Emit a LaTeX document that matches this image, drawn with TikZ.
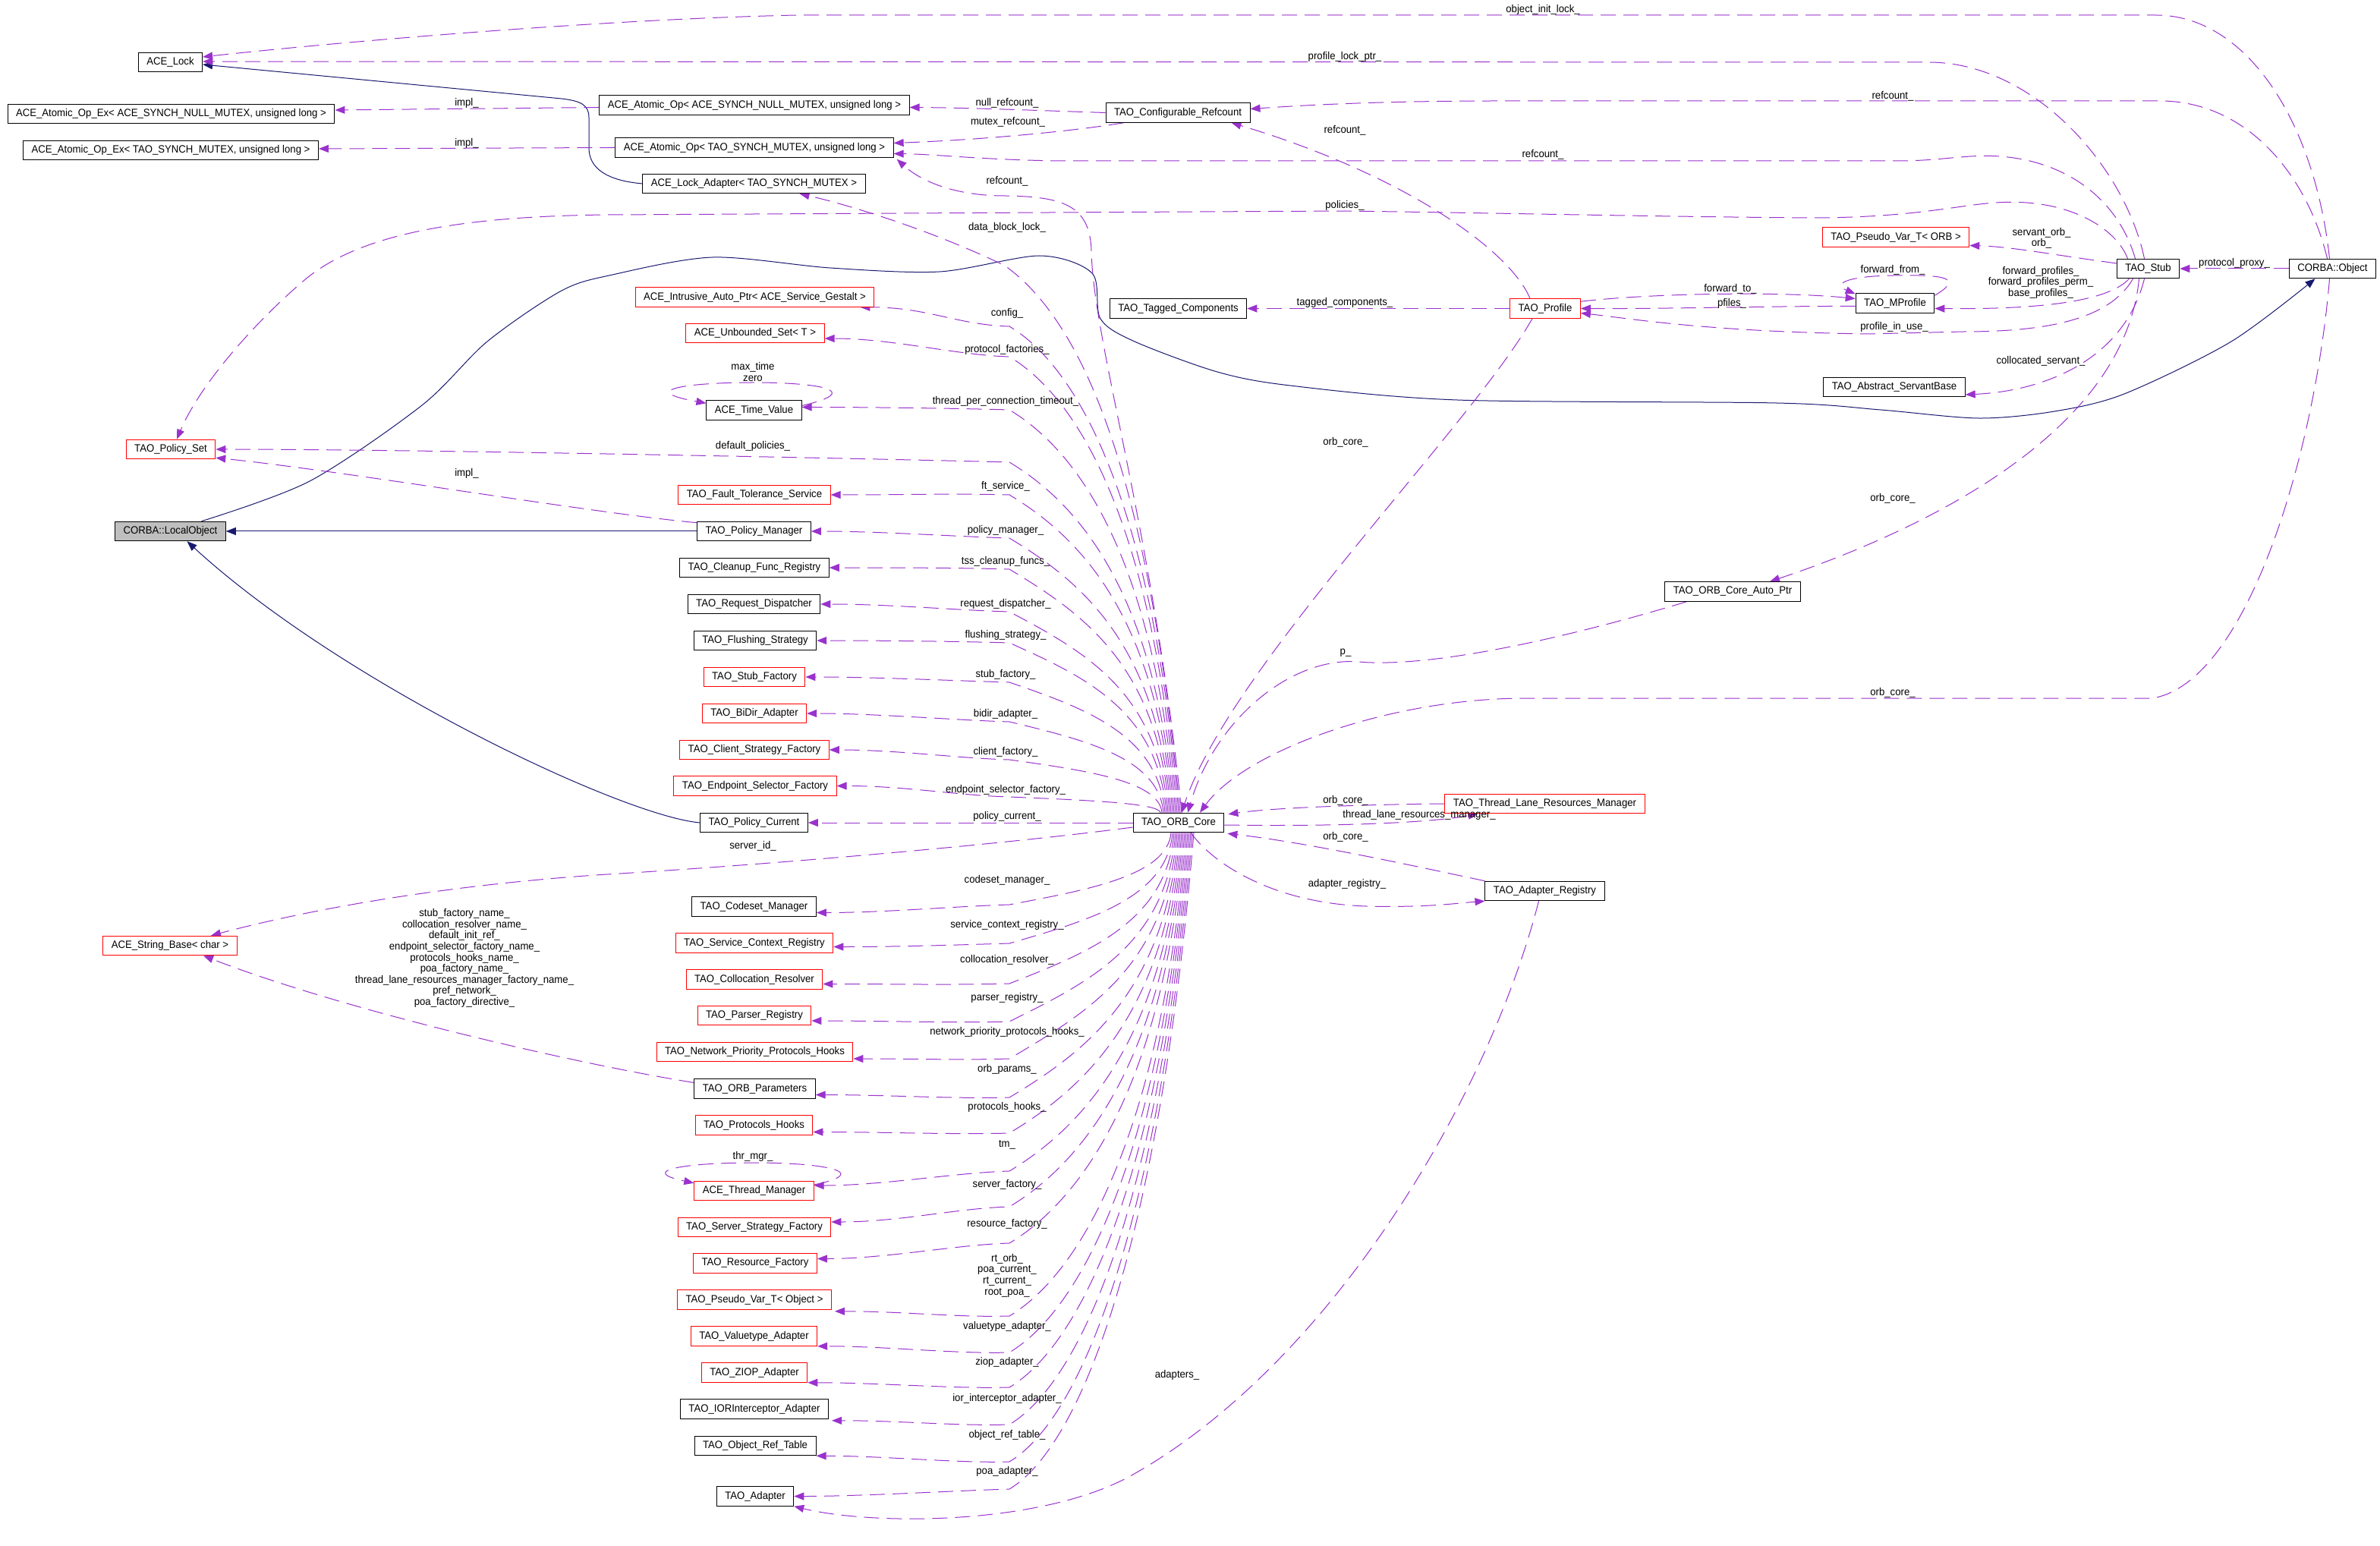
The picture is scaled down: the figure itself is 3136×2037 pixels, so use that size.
\documentclass[tikz,border=0pt]{standalone}
\usepackage{fontspec}
\setmainfont{Liberation Sans}[FakeStretch=0.94]
\usetikzlibrary{arrows.meta,calc}
\pgfdeclarelayer{bg}
\pgfdeclarelayer{edges}
\pgfsetlayers{bg,edges,main}
\definecolor{depc}{HTML}{9A32CD}
\definecolor{inhc}{HTML}{191970}
\definecolor{lgray}{HTML}{BFBFBF}
\newcommand\coreup[4]{%
  \draw[dep] ($(core.north)+(#1,0)$) .. controls +({-0.05*(1071-#2)},{-0.6*(1071-#2)}) and +(100,{min(0.2*(1071-#2),60)}) .. (1330,#2) .. controls +(-70,-2) and +(#4,0) .. (#3);}
\newcommand\coredown[4]{%
  \draw[dep] ($(core.south)+(#1,0)$) .. controls +({-0.05*(#2-1097)},{0.6*(#2-1097)}) and +(100,{0-min(0.2*(#2-1097),60)}) .. (1330,#2) .. controls +(-70,2) and +(#4,0) .. (#3);}
\begin{document}
\begin{tikzpicture}[x=0.5pt,y=-0.5pt,
  every node/.style={font=\fontsize{7pt}{7.3pt}\selectfont},
  cls/.style={draw=black, line width=0.5pt, fill=white, inner xsep=5.5pt, inner ysep=0pt, minimum height=12.75pt},
  clsred/.style={cls, draw=red},
  clsgray/.style={cls, fill=lgray},
  lbl/.style={inner sep=0pt, align=center},
  dep/.style={draw=depc, line width=0.5pt, dash pattern=on 10pt off 5pt, -{Triangle[length=6.5pt,width=5pt]}},
  inh/.style={draw=inhc, line width=0.5pt, -{Triangle[length=6.5pt,width=5pt]}}]
\begin{pgfonlayer}{bg}
\fill[white] (0,0) rectangle (3136,2037);
\end{pgfonlayer}
\useasboundingbox (0,0) rectangle (3136,2037);

% ---------------- nodes ----------------
\node[cls] (lock) at (224.5,82) {ACE\_Lock};
\node[cls] (opexnull) at (225.5,150) {ACE\_Atomic\_Op\_Ex< ACE\_SYNCH\_NULL\_MUTEX, unsigned long >};
\node[cls] (opextao) at (225,198) {ACE\_Atomic\_Op\_Ex< TAO\_SYNCH\_MUTEX, unsigned long >};
\node[cls] (opnull) at (994,138.5) {ACE\_Atomic\_Op< ACE\_SYNCH\_NULL\_MUTEX, unsigned long >};
\node[cls] (optao) at (994,194.5) {ACE\_Atomic\_Op< TAO\_SYNCH\_MUTEX, unsigned long >};
\node[cls] (lockad) at (993.5,242) {ACE\_Lock\_Adapter< TAO\_SYNCH\_MUTEX >};
\node[cls] (refc) at (1552,148.5) {TAO\_Configurable\_Refcount};
\node[clsred] (intr) at (994.5,391.5) {ACE\_Intrusive\_Auto\_Ptr< ACE\_Service\_Gestalt >};
\node[clsred] (uset) at (995,439) {ACE\_Unbounded\_Set< T >};
\node[cls] (tagged) at (1552.5,406.5) {TAO\_Tagged\_Components};
\node[clsred] (profile) at (2036,406.5) {TAO\_Profile};
\node[clsred] (pvorb) at (2498,312.5) {TAO\_Pseudo\_Var\_T< ORB >};
\node[cls] (mprof) at (2497,399.5) {TAO\_MProfile};
\node[cls] (stub) at (2830.5,354) {TAO\_Stub};
\node[cls] (obj) at (3073.5,354) {CORBA::Object};
\node[cls] (servant) at (2496,510) {TAO\_Abstract\_ServantBase};
\node[cls] (autoptr) at (2283,779.5) {TAO\_ORB\_Core\_Auto\_Ptr};
\node[clsred] (pset) at (225,592) {TAO\_Policy\_Set};
\node[clsgray] (lobj) at (224.5,700) {CORBA::LocalObject};
\node[cls] (tv) at (993.5,540.5) {ACE\_Time\_Value};
\node[clsred] (ft) at (994,652) {TAO\_Fault\_Tolerance\_Service};
\node[cls] (pm) at (993.5,700) {TAO\_Policy\_Manager};
\node[cls] (cleanup) at (994,748) {TAO\_Cleanup\_Func\_Registry};
\node[cls] (rd) at (993.5,796) {TAO\_Request\_Dispatcher};
\node[cls] (fs) at (995,844) {TAO\_Flushing\_Strategy};
\node[clsred] (sf) at (994,892) {TAO\_Stub\_Factory};
\node[clsred] (bidir) at (994,940) {TAO\_BiDir\_Adapter};
\node[clsred] (csf) at (994,988) {TAO\_Client\_Strategy\_Factory};
\node[clsred] (esf) at (995,1035.5) {TAO\_Endpoint\_Selector\_Factory};
\node[cls] (pc) at (993.5,1084) {TAO\_Policy\_Current};
\node[cls] (core) at (1553,1084) {TAO\_ORB\_Core};
\node[clsred] (str) at (224,1246) {ACE\_String\_Base< char >};
\node[cls] (codeset) at (993.5,1194.5) {TAO\_Codeset\_Manager};
\node[clsred] (scr) at (994,1242.5) {TAO\_Service\_Context\_Registry};
\node[clsred] (colres) at (994,1290.5) {TAO\_Collocation\_Resolver};
\node[clsred] (parser) at (994,1338) {TAO\_Parser\_Registry};
\node[clsred] (nph) at (994.5,1386) {TAO\_Network\_Priority\_Protocols\_Hooks};
\node[cls] (params) at (994.5,1434.5) {TAO\_ORB\_Parameters};
\node[clsred] (ph) at (993.5,1482.5) {TAO\_Protocols\_Hooks};
\node[clsred] (tmgr) at (993.5,1569) {ACE\_Thread\_Manager};
\node[clsred] (ssf) at (994,1617) {TAO\_Server\_Strategy\_Factory};
\node[clsred] (rf) at (995,1664.5) {TAO\_Resource\_Factory};
\node[clsred] (pvobj) at (994,1712.5) {TAO\_Pseudo\_Var\_T< Object >};
\node[clsred] (vta) at (993.5,1760.5) {TAO\_Valuetype\_Adapter};
\node[clsred] (ziop) at (994,1808.5) {TAO\_ZIOP\_Adapter};
\node[cls] (ior) at (994,1856.5) {TAO\_IORInterceptor\_Adapter};
\node[cls] (ort) at (995,1905) {TAO\_Object\_Ref\_Table};
\node[cls] (adapter) at (995,1971.5) {TAO\_Adapter};
\node[clsred] (tlrm) at (2035.5,1059) {TAO\_Thread\_Lane\_Resources\_Manager};
\node[cls] (areg) at (2035.5,1174) {TAO\_Adapter\_Registry};

% ---------------- labels ----------------
\node[lbl] (t1) at (2033,13) {object\_init\_lock\_};
\node[lbl] (t2) at (1772,75) {profile\_lock\_ptr\_};
\node[lbl] (t3) at (2494,127) {refcount\_};
\node[lbl] (t4) at (1327,136) {null\_refcount\_};
\node[lbl] (t5) at (1328,161) {mutex\_refcount\_};
\node[lbl] (t6) at (1772,172) {refcount\_};
\node[lbl] (t7) at (2033,204) {refcount\_};
\node[lbl] (t8) at (1327,239) {refcount\_};
\node[lbl] (t9) at (1772,271) {policies\_};
\node[lbl] (t10) at (1327,300) {data\_block\_lock\_};
\node[lbl] (t11) at (2690,314) {servant\_orb\_\\orb\_};
\node[lbl] (t12) at (2689,372) {forward\_profiles\_\\forward\_profiles\_perm\_\\base\_profiles\_};
\node[lbl] (t13) at (2944,347) {protocol\_proxy\_};
\node[lbl] (t14) at (2494,356) {forward\_from\_};
\node[lbl] (t15) at (2280,381) {forward\_to\_};
\node[lbl] (t16) at (2282,400) {pfiles\_};
\node[lbl] (t17) at (1772,399) {tagged\_components\_};
\node[lbl] (t18) at (1327,413) {config\_};
\node[lbl] (t19) at (2496,431) {profile\_in\_use\_};
\node[lbl] (t20) at (1327,461) {protocol\_factories\_};
\node[lbl] (t21) at (2689,476) {collocated\_servant\_};
\node[lbl] (t22) at (992,490) {max\_time\\zero};
\node[lbl] (t23) at (1325,529) {thread\_per\_connection\_timeout\_};
\node[lbl] (t24) at (1773,583) {orb\_core\_};
\node[lbl] (t25) at (992,588) {default\_policies\_};
\node[lbl] (t26) at (615,624) {impl\_};
\node[lbl] (t27) at (1325,641) {ft\_service\_};
\node[lbl] (t28) at (2494,657) {orb\_core\_};
\node[lbl] (t29) at (1325,699) {policy\_manager\_};
\node[lbl] (t30) at (1325,740) {tss\_cleanup\_funcs\_};
\node[lbl] (t31) at (1325,796) {request\_dispatcher\_};
\node[lbl] (t32) at (1325,837) {flushing\_strategy\_};
\node[lbl] (t33) at (1773,860) {p\_};
\node[lbl] (t34) at (1325,889) {stub\_factory\_};
\node[lbl] (t35) at (2494,913) {orb\_core\_};
\node[lbl] (t36) at (1325,941) {bidir\_adapter\_};
\node[lbl] (t37) at (1325,991) {client\_factory\_};
\node[lbl] (t38) at (1325,1041) {endpoint\_selector\_factory\_};
\node[lbl] (t39) at (1773,1055) {orb\_core\_};
\node[lbl] (t40) at (1327,1076) {policy\_current\_};
\node[lbl] (t41) at (1870,1074) {thread\_lane\_resources\_manager\_};
\node[lbl] (t42) at (1773,1103) {orb\_core\_};
\node[lbl] (t43) at (992,1115) {server\_id\_};
\node[lbl] (t44) at (1327,1160) {codeset\_manager\_};
\node[lbl] (t45) at (1775,1165) {adapter\_registry\_};
\node[lbl] (t46) at (612,1262.5) {stub\_factory\_name\_\\collocation\_resolver\_name\_\\default\_init\_ref\_\\endpoint\_selector\_factory\_name\_\\protocols\_hooks\_name\_\\poa\_factory\_name\_\\thread\_lane\_resources\_manager\_factory\_name\_\\pref\_network\_\\poa\_factory\_directive\_};
\node[lbl] (t47) at (1327,1219) {service\_context\_registry\_};
\node[lbl] (t48) at (1327,1265) {collocation\_resolver\_};
\node[lbl] (t49) at (1327,1315) {parser\_registry\_};
\node[lbl] (t50) at (1327,1360) {network\_priority\_protocols\_hooks\_};
\node[lbl] (t51) at (1327,1409) {orb\_params\_};
\node[lbl] (t52) at (1327,1459) {protocols\_hooks\_};
\node[lbl] (t53) at (1327,1508) {tm\_};
\node[lbl] (t54) at (992,1524) {thr\_mgr\_};
\node[lbl] (t55) at (1327,1561) {server\_factory\_};
\node[lbl] (t56) at (1327,1613) {resource\_factory\_};
\node[lbl] (t57) at (1327,1680.5) {rt\_orb\_\\poa\_current\_\\rt\_current\_\\root\_poa\_};
\node[lbl] (t58) at (1327,1748) {valuetype\_adapter\_};
\node[lbl] (t59) at (1327,1795) {ziop\_adapter\_};
\node[lbl] (t60) at (1551,1812) {adapters\_};
\node[lbl] (t61) at (1327,1843) {ior\_interceptor\_adapter\_};
\node[lbl] (t62) at (1327,1891) {object\_ref\_table\_};
\node[lbl] (t63) at (1327,1939) {poa\_adapter\_};
\node[lbl] (t64) at (615,136) {impl\_};
\node[lbl] (t65) at (615,189) {impl\_};

\coordinate (lo1) at ($(lobj.north)+(41,0)$);
\coordinate (ob1) at ($(obj.south)+(-23,0)$);

\begin{pgfonlayer}{edges}
% ---------------- inheritance ----------------
\draw[inh] (lockad.west) .. controls (800,238) and (776,222) .. (776,195) -- (776,155) .. controls (776,138) and (765,133) .. (740,130) -- ($(lock.east)+(0,3)$);
\draw[inh] (pm.west) -- (lobj.east);
\draw[inh] (pc.west) .. controls (820,1075) and (450,900) .. ($(lobj.south)+(22,0)$);
\draw[inh] plot[smooth, tension=0.5] coordinates {(lo1) (408,634) (556,534) (642,450) (740,383) (807,362) (939,339) (1094,353) (1238,358) (1370,337) (1439,360) (1450,420) (1495,450) (1604,490) (1700,508) (1920,527) (2341,531) (2478,540) (2607,551) (2707,542) (2799,519) (2940,450) (ob1)};

% ---------------- usage: top area ----------------
\draw[dep] ($(obj.north)+(-4,0)$) .. controls (3050,160) and (2960,20) .. (2841,20) -- (1050,20) .. controls (800,25) and (450,55) .. ($(lock.east)+(0,-7)$);
\draw[dep] ($(stub.north)+(-5,0)$) .. controls (2800,220) and (2680,82) .. (2541,82) -- ($(lock.east)+(0,-1)$);
\draw[dep] ($(obj.north)+(-7,0)$) .. controls (3040,230) and (2960,133) .. (2846,133) -- (1973,133) .. controls (1800,133) and (1700,140) .. ($(refc.east)+(0,-5)$);
\draw[dep] (refc.west) .. controls (1380,146) and (1280,142) .. ($(opnull.east)+(0,3)$);
\draw[dep] ($(refc.south west)+(24,0)$) .. controls (1420,172) and (1300,184) .. ($(optao.east)+(0,-6)$);
\draw[dep] ($(stub.north)+(-17,0)$) .. controls (2790,260) and (2720,212) .. (2635,206) .. controls (2590,203) and (2560,212) .. (2500,212) -- (1400,212) .. controls (1300,211) and (1230,203) .. ($(optao.east)+(0,8)$);
\draw[dep] ($(core.north)+(4,0)$) .. controls (1520,700) and (1440,450) .. (1438,330) .. controls (1436,270) and (1400,259) .. (1324,258) .. controls (1260,258) and (1215,240) .. ($(optao.south east)+(4,2)$);
\draw[dep] ($(profile.north)+(-20,0)$) .. controls (1990,330) and (1850,230) .. ($(refc.south east)+(-25,0)$);
\draw[dep] ($(stub.north)+(-27,0)$) .. controls (2790,305) and (2740,272) .. (2670,267) .. controls (2600,262) and (2560,285) .. (2400,287) .. controls (2200,286) and (2000,281) .. (1772,278) -- (800,283) .. controls (600,285) and (470,310) .. (400,370) .. controls (330,430) and (262,510) .. ($(pset.north)+(8,0)$);
\draw[dep] ($(core.north)+(2,0)$) .. controls (1520,700) and (1450,440) .. (1324,350) .. controls (1220,300) and (1110,268) .. ($(lockad.south)+(60,0)$);
\draw[dep] ($(opnull.west)+(0,3)$) -- ($(opexnull.east)+(0,-5)$);
\draw[dep] (optao.west) -- ($(opextao.east)+(0,-2)$);

% ---------------- usage: profile / stub / object ----------------
\draw[dep] (profile.west) -- (tagged.east);
\draw[dep] ($(profile.north east)+(0,4)$) .. controls (2180,386) and (2350,384) .. ($(mprof.west)+(0,-6)$);
\draw[dep] ($(mprof.west)+(0,4)$) .. controls (2350,403) and (2200,407) .. (profile.east);
\draw[dep] ($(stub.south)+(-20,0)$) .. controls (2780,420) and (2700,437) .. (2588,437) -- (2461,440) .. controls (2250,437) and (2150,420) .. ($(profile.east)+(0,6)$);
\draw[dep] ($(mprof.north east)+(0,3)$) .. controls (2590,365) and (2560,362) .. (2494,363) .. controls (2430,364) and (2415,375) .. ($(mprof.north west)+(0,1)$);
\draw[dep] ($(stub.south)+(-25,0)$) .. controls (2780,395) and (2700,408) .. ($(mprof.east)+(0,7)$);
\draw[dep] ($(stub.west)+(0,-7)$) .. controls (2700,335) and (2650,325) .. ($(pvorb.east)+(0,11)$);
\draw[dep] (obj.west) -- (stub.east);
\draw[dep] ($(stub.south)+(-5,0)$) .. controls (2800,470) and (2700,515) .. ($(servant.east)+(0,10)$);
\draw[dep] ($(stub.south)+(-12,0)$) .. controls (2800,560) and (2560,690) .. ($(autoptr.north)+(49,0)$);
\draw[dep] ($(autoptr.south west)+(29,0)$) .. controls (2050,845) and (1880,880) .. (1790,872) .. controls (1700,865) and (1600,950) .. ($(core.north)+(12,0)$);
\draw[dep] ($(profile.south)+(-17,0)$) .. controls (1940,560) and (1620,880) .. ($(core.north)+(4,0)$);
\draw[dep] ($(obj.south)+(-4,0)$) .. controls (3050,600) and (2960,900) .. (2836,920) -- (2011,920) .. controls (1830,920) and (1640,990) .. ($(core.north)+(28,0)$);

% ---------------- usage: around ORB core ----------------
\draw[dep] ($(core.east)+(0,3)$) .. controls (1750,1089) and (1880,1085) .. ($(tlrm.south west)+(44,0)$);
\draw[dep] (tlrm.west) .. controls (1800,1060) and (1680,1064) .. ($(core.north east)+(5,2)$);
\draw[dep] (areg.north west) .. controls (1850,1138) and (1720,1110) .. ($(core.south east)+(4,1)$);
\draw[dep] ($(core.south)+(16,0)$) .. controls (1600,1140) and (1680,1190) .. (1800,1194) .. controls (1880,1196) and (1920,1190) .. (areg.south west);
\draw[dep] ($(areg.south)+(-8,0)$) .. controls (1960,1450) and (1750,1800) .. (1489,1945) .. controls (1370,2010) and (1150,2010) .. (adapter.south east);
\draw[dep] (core.west) -- (pc.east);
\draw[dep] ($(core.west)+(0,6)$) .. controls (1300,1115) and (1000,1140) .. (800,1152) .. controls (600,1165) and (420,1195) .. ($(str.north)+(54,0)$);
\draw[dep] ($(params.west)+(0,-8)$) .. controls (750,1400) and (450,1330) .. ($(str.south)+(44,0)$);
\draw[dep] ($(tv.east)+(0,-6)$) .. controls (1140,515) and (1080,504) .. (992,504) .. controls (900,504) and (840,515) .. ($(tv.north west)+(0,4)$);
\draw[dep] ($(tmgr.east)+(0,-8)$) .. controls (1150,1545) and (1090,1532) .. (992,1532) .. controls (900,1532) and (840,1543) .. ($(tmgr.north west)+(0,3)$);
\draw[dep] ($(pm.north west)+(0,2)$) .. controls (780,676) and (450,620) .. ($(pset.south east)+(0,-2)$);

% upper column
\coreup{0}{430}{$(intr.south east)+(-19,0)$}{90}
\coreup{-2}{470}{$(uset.east)+(0,7)$}{90}
\coreup{-4}{540}{$(tv.east)+(0,-4)$}{90}
\coreup{-6}{609}{pset.east}{300}
\coreup{-8}{652}{ft.east}{90}
\coreup{-10}{709}{pm.east}{90}
\coreup{-12}{750}{cleanup.east}{90}
\coreup{-14}{806}{rd.east}{90}
\coreup{-16}{847}{fs.east}{90}
\coreup{-18}{899}{sf.east}{90}
\coreup{-20}{951}{bidir.east}{90}
\coreup{-22}{1001}{csf.east}{90}
\coreup{-24}{1050}{esf.east}{90}
% lower column
\coredown{-10}{1192}{$(codeset.east)+(0,8)$}{90}
\coredown{-8}{1243}{$(scr.east)+(0,5)$}{90}
\coredown{-6}{1296}{$(colres.east)+(0,6)$}{90}
\coredown{-4}{1346}{$(parser.east)+(0,7)$}{90}
\coredown{-2}{1395}{$(nph.east)+(0,9)$}{90}
\coredown{0}{1446}{$(params.east)+(0,8)$}{90}
\coredown{2}{1493}{$(ph.east)+(0,9)$}{90}
\coredown{4}{1543}{$(tmgr.east)+(0,-7)$}{90}
\coredown{6}{1590}{$(ssf.east)+(0,-7)$}{90}
\coredown{8}{1638}{$(rf.east)+(0,-6)$}{90}
\coredown{10}{1734}{$(pvobj.south east)+(4,2)$}{90}
\coredown{12}{1782}{vta.south east}{90}
\coredown{14}{1828}{ziop.south east}{90}
\coredown{16}{1877}{$(ior.south east)+(4,2)$}{90}
\coredown{18}{1926}{ort.south east}{90}
\coredown{20}{1962}{adapter.east}{90}
\end{pgfonlayer}
\end{tikzpicture}
\end{document}
